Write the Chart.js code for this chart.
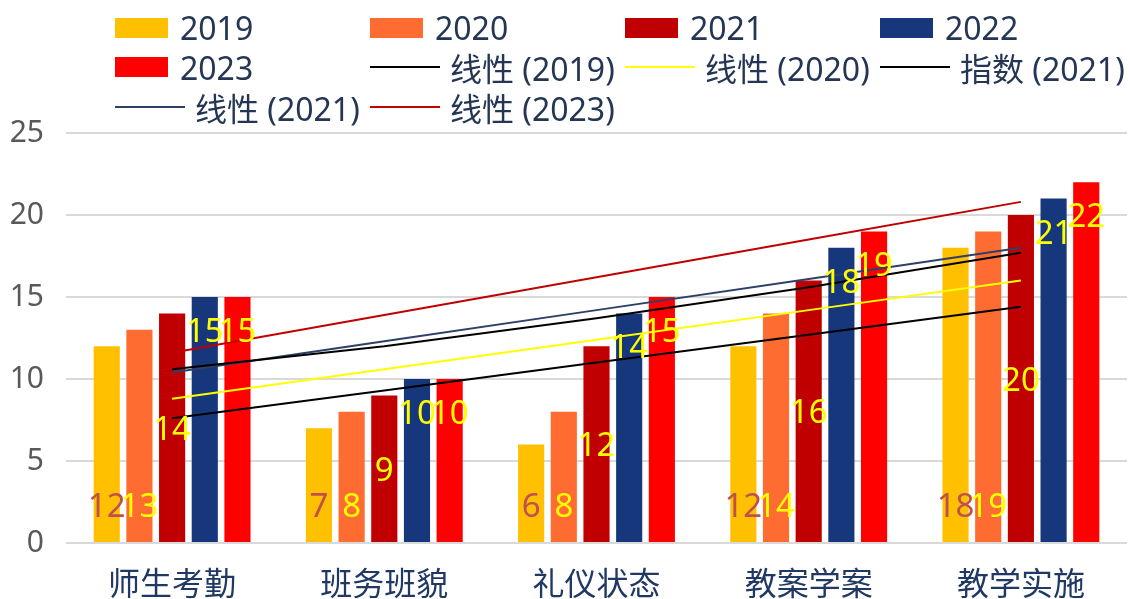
<!DOCTYPE html>
<html lang="zh-CN">
<head>
  <meta charset="UTF-8">
  <title>Chart</title>
  <script src="https://cdn.jsdelivr.net/npm/chart.js@4.4.1/dist/chart.umd.min.js"></script>
  <style>
    html, body { margin: 0; padding: 0; background: #fff; }
    #wrap { position: relative; width: 1130px; height: 599px; }
    #legend {
      position: absolute; left: 115px; top: 8px;
      display: grid; grid-template-columns: 255px 255px 255px auto; grid-auto-rows: 39.5px;
      font-family: "Noto Sans", "Noto Sans CJK SC", sans-serif; font-size: 32px; color: #243654;
    }
    .item { display: flex; align-items: center; white-space: nowrap; }
    .box { width: 53px; height: 20px; margin-right: 12px; }
    .line { width: 70px; height: 2px; margin-right: 10px; }
  </style>
</head>
<body>
  <div id="wrap">
    <canvas id="chart"></canvas>
    <div id="legend"></div>
  </div>

  <script>
    // categories and values
    const categories = ["师生考勤", "班务班貌", "礼仪状态", "教案学案", "教学实施"]
    const years = ["2019", "2020", "2021", "2022", "2023"]
    const v2019 = [12, 7, 6, 12, 18]
    const v2020 = [13, 8, 8, 14, 19]
    const v2021 = [14, 9, 12, 16, 20]
    const v2022 = [15, 10, 14, 18, 21]
    const v2023 = [15, 10, 15, 19, 22]

    // trendlines
    const trendNames = ["线性 (2019)", "线性 (2020)", "指数 (2021)", "线性 (2021)", "线性 (2023)"]
    const lin2019 = [7.6, 9.3, 11.0, 12.7, 14.4]
    const lin2020 = [8.8, 10.6, 12.4, 14.2, 16.0]
    const exp2021 = [10.6, 12.0, 13.7, 15.6, 17.7]
    const lin2021 = [10.4, 12.3, 14.2, 16.1, 18.0]
    const lin2023 = [11.6, 13.9, 16.2, 18.5, 20.8]

    const yTicks = [0, 5, 10, 15, 20, 25]

    const barColors = ["#FFC000", "#FF6C31", "#C00000", "#17377C", "#FF0000"]
    const labelColors = ["#C0504D", "#FFFF00", "#FFFF00", "#FFFF00", "#FFFF00"]
    const labelPos = ["base", "base", "center", "end", "end"]
    const trendColors = ["#000000", "#FFFF00", "#000000", "#2E4068", "#C00000"]

    const barValues = [v2019, v2020, v2021, v2022, v2023]
    const trendValues = [lin2019, lin2020, exp2021, lin2021, lin2023]

    const datasets = []
    years.forEach((y, i) => {
      datasets.push({
        type: "bar",
        label: y,
        data: barValues[i],
        backgroundColor: barColors[i],
        categoryPercentage: 0.77,
        barPercentage: 0.8,
        order: 1,
        labelColor: labelColors[i],
        labelPos: labelPos[i]
      })
    })
    trendNames.forEach((n, i) => {
      datasets.push({
        type: "line",
        label: n,
        data: trendValues[i],
        borderColor: trendColors[i],
        borderWidth: 2,
        pointRadius: 0,
        tension: 0,
        fill: false,
        order: 0
      })
    })

    // value labels: 2019/2020 at the base, 2021 centred, 2022/2023 inside the top
    const valueLabels = {
      id: "valueLabels",
      afterDatasetsDraw(chart) {
        const ctx = chart.ctx
        ctx.save()
        ctx.font = '33px "Noto Sans"'
        ctx.textAlign = "center"
        ctx.textBaseline = "alphabetic"
        chart.data.datasets.forEach((ds, i) => {
          if (ds.type !== "bar") return
          chart.getDatasetMeta(i).data.forEach((bar, j) => {
            let y
            if (ds.labelPos === "base") y = bar.base - 25
            else if (ds.labelPos === "center") y = (bar.y + bar.base) / 2 + 12
            else y = bar.y + 45
            ctx.fillStyle = ds.labelColor
            ctx.fillText(ds.data[j], bar.x, y)
          })
        })
        ctx.restore()
      }
    }

    new Chart(document.getElementById("chart"), {
      type: "bar",
      data: { labels: categories, datasets: datasets },
      options: {
        responsive: true,
        maintainAspectRatio: false,
        animation: false,
        layout: { padding: { top: 133, right: 3, left: 0, bottom: 0 } },
        plugins: { legend: { display: false }, tooltip: { enabled: false } },
        scales: {
          x: {
            grid: { display: false },
            border: { display: false },
            ticks: {
              color: "#203864",
              font: { family: '"Noto Sans CJK SC"', size: 32 },
              padding: 13
            },
            afterFit(s) { s.height = 56 }
          },
          y: {
            min: 0,
            max: 25,
            afterBuildTicks(s) { s.ticks = yTicks.map(v => ({ value: v })) },
            grid: { color: "#D9D9D9", lineWidth: 2, drawTicks: false },
            border: { display: false },
            ticks: {
              color: "#595959",
              font: { family: '"Noto Sans"', size: 30 },
              padding: 22
            },
            afterFit(s) { s.width = 66 }
          }
        }
      },
      plugins: [valueLabels]
    })

    // legend laid out in the same grid as the picture
    const legend = document.getElementById("legend")
    datasets.forEach(ds => {
      const item = document.createElement("div")
      item.className = "item"
      const mark = document.createElement("span")
      if (ds.type === "bar") {
        mark.className = "box"
        mark.style.background = ds.backgroundColor
      } else {
        mark.className = "line"
        mark.style.background = ds.borderColor
      }
      const text = document.createElement("span")
      text.textContent = ds.label
      item.appendChild(mark)
      item.appendChild(text)
      legend.appendChild(item)
    })
  </script>
</body>
</html>
